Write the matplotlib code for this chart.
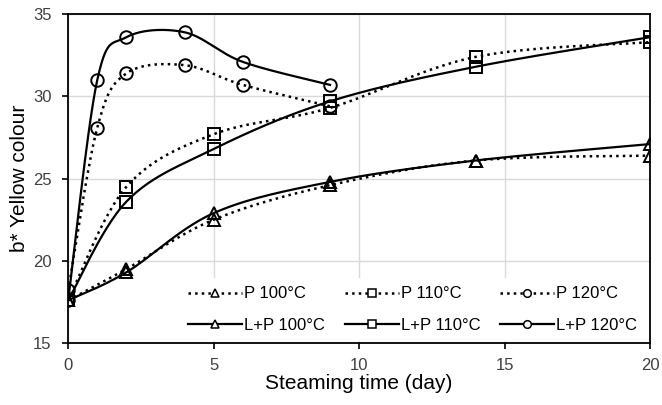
import numpy as np
import matplotlib
matplotlib.use("Agg")
import matplotlib.pyplot as plt

# ── data ──────────────────────────────────────────────────────────────────────
days_100 = [0, 2, 5, 9, 14, 20]
p_100    = [17.6, 19.5, 22.5, 24.6, 26.1, 26.4]
lp_100   = [17.6, 19.3, 22.9, 24.8, 26.1, 27.1]

days_110 = [0, 2, 5, 9, 14, 20]
p_110    = [17.6, 24.5, 27.7, 29.3, 32.4, 33.3]
lp_110   = [17.6, 23.6, 26.8, 29.7, 31.8, 33.6]

days_120 = [0, 1, 2, 4, 6, 9]
p_120    = [18.2, 28.1, 31.4, 31.9, 30.7, 29.4]
lp_120   = [17.6, 31.0, 33.6, 33.9, 32.1, 30.7]

plt.rcParams["font.family"] = ["Liberation Sans", "DejaVu Sans"]


def smooth(x, y, n=30):
    # Excel-style smoothed line: cubic Bezier segments with Catmull-Rom control points
    x = np.asarray(x, float)
    y = np.asarray(y, float)
    pts = np.column_stack([x, y])
    out = [pts[0]]
    t = np.linspace(0, 1, n)[1:, None]
    for i in range(len(pts) - 1):
        p0 = pts[i - 1] if i > 0 else pts[i]
        p1, p2 = pts[i], pts[i + 1]
        p3 = pts[i + 2] if i + 2 < len(pts) else pts[i + 1]
        c1 = p1 + (p2 - p0) / 6
        c2 = p2 - (p3 - p1) / 6
        seg = ((1 - t) ** 3) * p1 + 3 * ((1 - t) ** 2) * t * c1 + 3 * (1 - t) * t ** 2 * c2 + t ** 3 * p2
        out.extend(seg)
    out = np.array(out)
    return out[:, 0], out[:, 1]


fig = plt.figure(figsize=(6.62, 4.05), dpi=100)
ax = fig.add_axes([0.103, 0.153, 0.879, 0.812])

series = [
    (days_100, p_100,  ":", "^", "P 100°C"),
    (days_100, lp_100, "-", "^", "L+P 100°C"),
    (days_110, p_110,  ":", "s", "P 110°C"),
    (days_110, lp_110, "-", "s", "L+P 110°C"),
    (days_120, p_120,  ":", "o", "P 120°C"),
    (days_120, lp_120, "-", "o", "L+P 120°C"),
]

handles = []
for x, y, ls, mk, lab in series:
    sx, sy = smooth(x, y)
    lw = 1.6 if ls == "-" else 1.8
    ax.plot(sx, sy, ls=ls, color="black", lw=lw, zorder=3)
    ax.plot(x, y, ls="none", marker=mk, ms=9, mfc="none", mec="black", mew=1.4, zorder=4)
    h, = ax.plot([], [], ls=ls, color="black", lw=lw, marker=mk, ms=5.5,
                 mfc="white", mec="black", mew=1.1, label=lab)
    handles.append(h)

ax.set_xlim(0, 20)
ax.set_ylim(15, 35)
ax.set_xticks([0, 5, 10, 15, 20])
ax.set_yticks([15, 20, 25, 30, 35])
ax.grid(True, color="#d9d9d9", lw=1)
ax.set_axisbelow(True)
ax.tick_params(direction="out", length=4, width=1.2, labelsize=12, color="black",
               labelcolor="#404040")
ax.tick_params(axis="y", pad=8)
ax.tick_params(axis="x", pad=7)
for s in ax.spines.values():
    s.set_linewidth(1.3)

ax.set_xlabel("Steaming time (day)", fontsize=15)
ax.set_ylabel("b* Yellow colour", fontsize=15)
ax.xaxis.set_label_coords(0.5, -0.094)
ax.yaxis.set_label_coords(-0.067, 0.5)

leg = ax.legend(handles=handles, ncol=3, loc="lower right", bbox_to_anchor=(0.992, 0.005),
                borderaxespad=0, fontsize=12, frameon=True, facecolor="white",
                edgecolor="none", framealpha=1, fancybox=False, handlelength=3.25,
                handletextpad=0.1, columnspacing=1.2, labelspacing=1.0, borderpad=0.5)
leg.set_zorder(5)

fig.savefig("out.png", dpi=100)
